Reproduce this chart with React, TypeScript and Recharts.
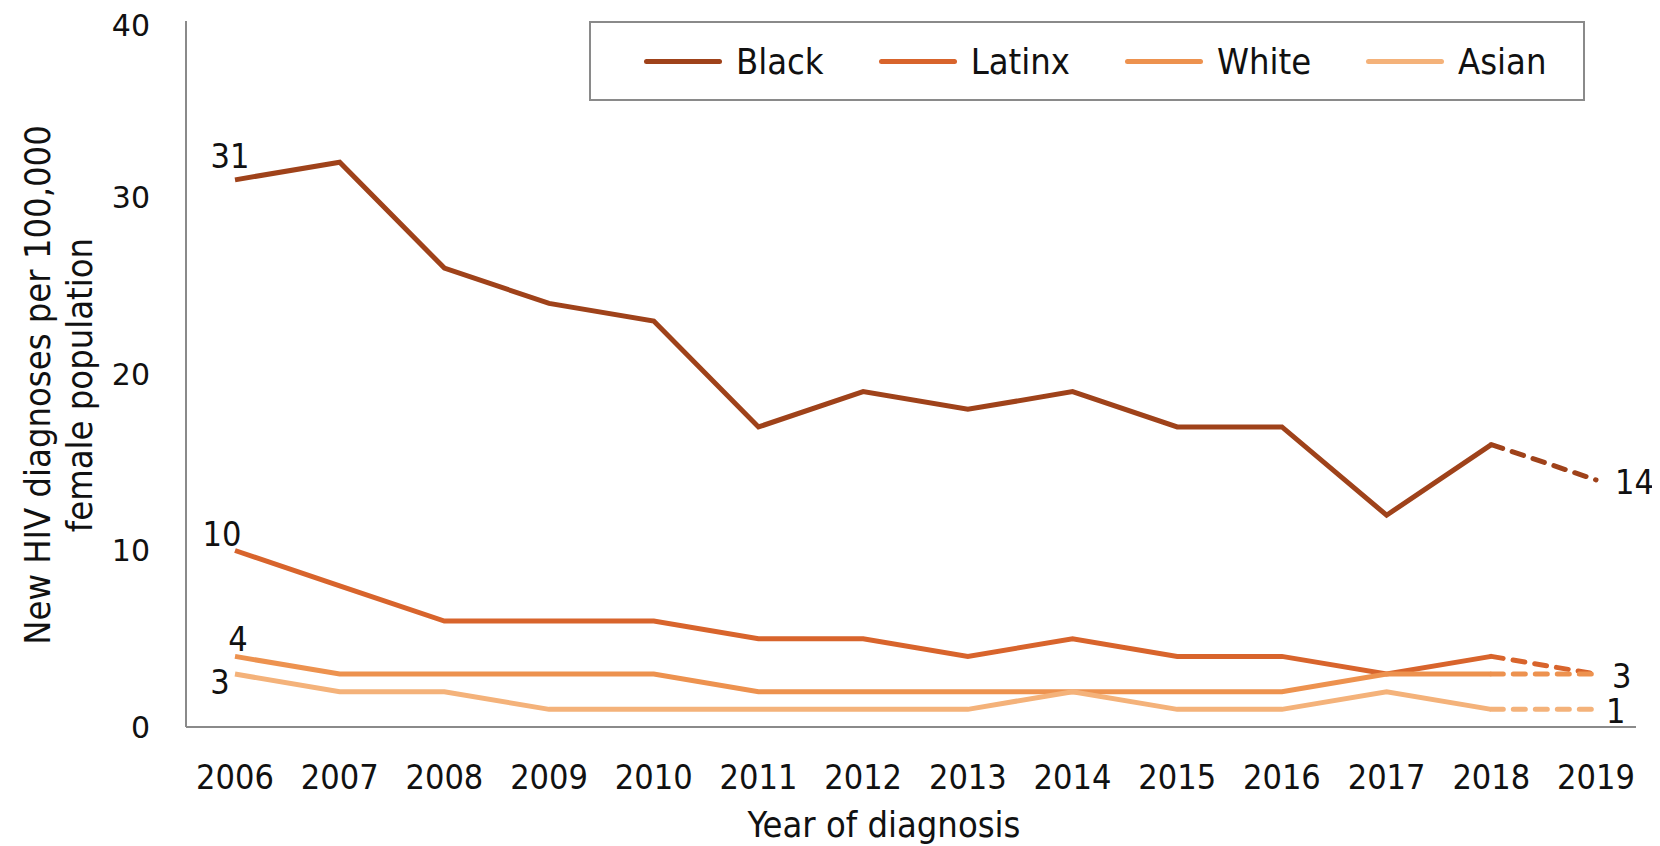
import React from "react";
import { LineChart, Line, XAxis, YAxis, LabelList } from "recharts";

const years = ["2006", "2007", "2008", "2009", "2010", "2011", "2012", "2013", "2014", "2015", "2016", "2017", "2018", "2019"];
const black = [31, 32, 26, 24, 23, 17, 19, 18, 19, 17, 17, 12, 16, 14];
const latinx = [10, 8, 6, 6, 6, 5, 5, 4, 5, 4, 4, 3, 4, 3];
const white = [4, 3, 3, 3, 3, 2, 2, 2, 2, 2, 2, 3, 3, 3];
const asian = [3, 2, 2, 1, 1, 1, 1, 1, 2, 1, 1, 2, 1, 1];
const yTicks = [0, 10, 20, 30, 40];

// last year with final (solid) data; after this the line is dashed
const LAST_SOLID = years.indexOf("2018");

const FONT = "'DejaVu Sans', sans-serif";
const STRETCH = "condensed";
const NUM_FONT = "'DejaVu Sans', Verdana, sans-serif";
const AXIS = "#8a8a8a";

const series = [
  { key: "black", name: "Black", values: black, color: "#9f421a", start: { dx: -5, dy: -24 }, end: { dx: 19, dy: 2 } },
  { key: "latinx", name: "Latinx", values: latinx, color: "#d8642c", start: { dx: -13, dy: -17 }, end: null },
  { key: "white", name: "White", values: white, color: "#ed924f", start: { dx: 3, dy: -17 }, end: { dx: 16, dy: 2 } },
  { key: "asian", name: "Asian", values: asian, color: "#f4b27a", start: { dx: -15, dy: 8 }, end: { dx: 10, dy: 2 } },
];

const data = years.map((year, i) => {
  const row: any = { year };
  series.forEach((s) => {
    row[s.key] = i <= LAST_SOLID ? s.values[i] : null;
    row[s.key + "Dash"] = i >= LAST_SOLID ? s.values[i] : null;
  });
  return row;
});

const startLabel = (off: { dx: number; dy: number }) => (props: any) => {
  if (props.index !== 0) return null;
  return (
    <text x={props.x + off.dx} y={props.y + off.dy} textAnchor="middle" dominantBaseline="central"
      fontFamily={FONT} fontStretch={STRETCH} fontSize={34} fill="#111">
      {props.value}
    </text>
  );
};

const endLabel = (off: { dx: number; dy: number }) => (props: any) => {
  if (props.index !== years.length - 1) return null;
  return (
    <text x={props.x + off.dx} y={props.y + off.dy} textAnchor="start" dominantBaseline="central"
      fontFamily={FONT} fontStretch={STRETCH} fontSize={34} fill="#111">
      {props.value}
    </text>
  );
};

const LegendBox = () => (
  <div
    style={{
      position: "absolute",
      left: 581,
      top: 13,
      width: 996,
      height: 80,
      border: `2px solid ${AXIS}`,
      background: "#fff",
      display: "flex",
      alignItems: "center",
      paddingLeft: 53,
      boxSizing: "border-box",
      gap: 55,
      fontFamily: FONT,
      fontStretch: STRETCH,
      fontSize: 36,
      color: "#111",
    }}
  >
    {series.map((s) => (
      <div key={s.key} style={{ display: "flex", alignItems: "center" }}>
        <div style={{ width: 78, height: 5, borderRadius: 3, background: s.color, marginRight: 14 }} />
        <span>{s.name}</span>
      </div>
    ))}
  </div>
);

export default function App() {
  return (
    <div style={{ position: "relative", width: 1652, height: 838, background: "#fff" }}>
      <LineChart width={1652} height={838} data={data} margin={{ top: 13, right: 24, left: 78, bottom: 9 }}>
        <XAxis
          dataKey="year"
          height={110}
          padding={{ left: 49, right: 40 }}
          axisLine={{ stroke: AXIS, strokeWidth: 2 }}
          tickLine={false}
          tickSize={0}
          tickMargin={38}
          tick={{ fontFamily: FONT, fontStretch: STRETCH, fontSize: 34, fill: "#111" }}
          interval={0}
        />
        <YAxis
          width={100}
          domain={[0, 40]}
          ticks={yTicks}
          axisLine={{ stroke: AXIS, strokeWidth: 2 }}
          tickLine={false}
          tickSize={0}
          tickMargin={36}
          tick={{ fontFamily: NUM_FONT, fontSize: 30, fill: "#111" }}
        />
        {series.map((s) => (
          <Line
            key={s.key}
            dataKey={s.key}
            name={s.name}
            stroke={s.color}
            strokeWidth={5}
            dot={false}
            activeDot={false}
            isAnimationActive={false}
          >
            <LabelList dataKey={s.key} content={startLabel(s.start)} />
          </Line>
        ))}
        {series.map((s) => (
          <Line
            key={s.key + "Dash"}
            dataKey={s.key + "Dash"}
            legendType="none"
            stroke={s.color}
            strokeWidth={5}
            strokeDasharray="12 10"
            strokeLinecap="round"
            dot={false}
            activeDot={false}
            isAnimationActive={false}
          >
            {s.end && <LabelList dataKey={s.key + "Dash"} content={endLabel(s.end)} />}
          </Line>
        ))}
        <text x={29} y={377} transform="rotate(-90, 29, 377)" textAnchor="middle" dominantBaseline="central"
          fontFamily={FONT} fontStretch={STRETCH} fontSize={36} fill="#111">
          New HIV diagnoses per 100,000
        </text>
        <text x={71} y={377} transform="rotate(-90, 71, 377)" textAnchor="middle" dominantBaseline="central"
          fontFamily={FONT} fontStretch={STRETCH} fontSize={36} fill="#111">
          female population
        </text>
        <text x={876} y={816} textAnchor="middle" dominantBaseline="central" fontFamily={FONT}
          fontStretch={STRETCH} fontSize={36} fill="#111">
          Year of diagnosis
        </text>
      </LineChart>
      <LegendBox />
    </div>
  );
}
